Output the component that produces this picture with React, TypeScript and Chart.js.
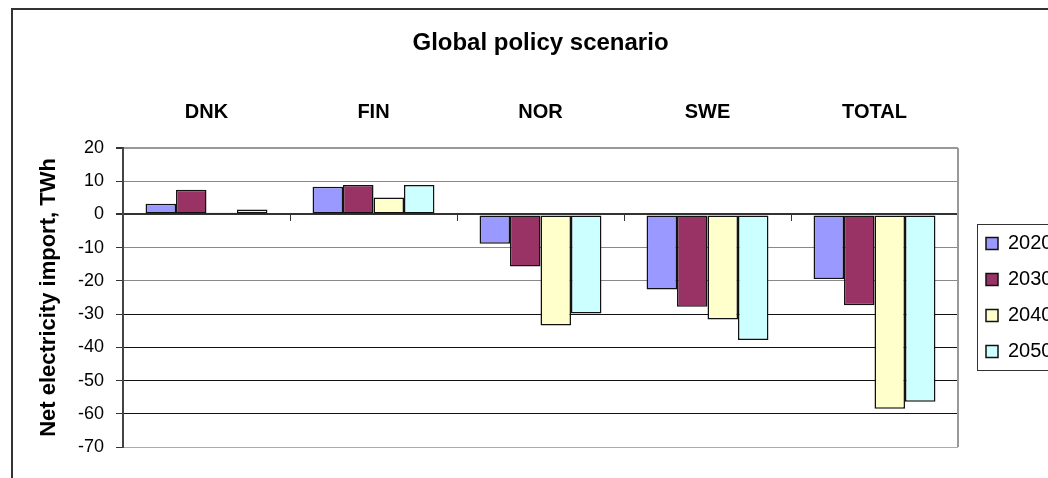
import React, { useEffect, useRef } from "react";
import { Chart, registerables } from "chart.js";

Chart.register(...registerables);

// ---- Data ----
const categories = ["DNK", "FIN", "NOR", "SWE", "TOTAL"];
const seriesNames = ["2020", "2030", "2040", "2050"];
const values2020 = [3.2, 8.3, -8.8, -22.6, -19.4];
const values2030 = [7.4, 8.9, -15.7, -27.8, -27.3];
const values2040 = [0.5, 5.1, -33.4, -31.6, -58.5];
const values2050 = [1.5, 8.9, -29.8, -37.8, -56.4];
const seriesColors = ["#9999FF", "#993366", "#FFFFCC", "#CCFFFF"];
const yMin = -70;
const yMax = 20;
const yStep = 10;
const titleText = "Global policy scenario";
const yTitleText = "Net electricity import, TWh";

const FONT = "'Liberation Sans', Arial, Helvetica, sans-serif";

const extrasPlugin = {
  id: "extrasPlugin",
  beforeDatasetsDraw(chart: any) {
    const { ctx, chartArea } = chart;
    ctx.save();
    ctx.strokeStyle = "#999";
    ctx.lineWidth = 2;
    ctx.beginPath();
    ctx.moveTo(chartArea.right, chartArea.top);
    ctx.lineTo(chartArea.right, chartArea.bottom);
    ctx.stroke();
    ctx.restore();
  },
  afterDraw(chart: any) {
    const { ctx } = chart;
    const legend = chart.legend;
    if (!legend) return;
    const boxes = legend.legendHitBoxes;
    if (!boxes || !boxes.length) return;
    const first = boxes[0];
    const last = boxes[boxes.length - 1];
    const x = Math.round(legend.left + 7) + 0.5;
    const top = Math.round(first.top - 10) + 0.5;
    const bottom = Math.round(last.top + last.height + 8) + 0.5;
    ctx.save();
    ctx.strokeStyle = "#333";
    ctx.lineWidth = 1;
    ctx.strokeRect(x, top, chart.width + 40 - x, bottom - top);
    ctx.restore();
  },
};

export default function App() {
  const ref = useRef<HTMLCanvasElement>(null);

  useEffect(() => {
    const canvas = ref.current;
    if (!canvas) return;
    const seriesValues = [values2020, values2030, values2040, values2050];
    const chart = new Chart(canvas, {
      type: "bar",
      data: {
        labels: categories,
        datasets: seriesNames.map((name, i) => ({
          label: name,
          data: seriesValues[i],
          backgroundColor: seriesColors[i],
          borderColor: "#111",
          borderWidth: 1.5,
          borderSkipped: false,
          categoryPercentage: 0.73,
          barPercentage: 1,
          xAxisID: "x",
          yAxisID: "y",
        })),
      },
      options: {
        animation: false,
        responsive: false,
        devicePixelRatio: 1,
        layout: { padding: { left: 33, top: 0, right: 0, bottom: 31 } },
        plugins: {
          title: {
            display: true,
            text: titleText,
            color: "#000",
            font: { family: FONT, size: 24, weight: "bold" },
            padding: { top: 29, bottom: 30.2 },
          },
          legend: {
            display: true,
            position: "right",
            align: "center",
            fullSize: false,
            maxWidth: 78,
            labels: {
              color: "#000",
              font: { family: FONT, size: 20 },
              boxWidth: 12,
              boxHeight: 12,
              padding: 16,
            },
          },
          tooltip: { enabled: false },
        },
        scales: {
          x: {
            type: "category",
            position: "top",
            offset: true,
            grid: { display: false, drawTicks: false },
            border: { display: false },
            ticks: {
              color: "#000",
              font: { family: FONT, size: 20, weight: "bold" },
              padding: 24,
              maxRotation: 0,
              minRotation: 0,
              autoSkip: false,
            },
            afterFit: (s: any) => {
              s.height = 60;
            },
          },
          x0: {
            type: "category",
            position: { y: 0 },
            offset: true,
            grid: {
              offset: true,
              drawOnChartArea: false,
              drawTicks: true,
              tickLength: 6,
              color: "#333",
              lineWidth: 1,
            },
            border: { display: true, color: "#333", width: 2 },
            ticks: { display: false },
            afterFit: (s: any) => {
              s.height = 0;
            },
          },
          y: {
            type: "linear",
            position: "left",
            min: yMin,
            max: yMax,
            ticks: {
              stepSize: yStep,
              color: "#000",
              font: { family: FONT, size: 18 },
              padding: 12,
            },
            grid: {
              drawTicks: true,
              tickLength: 7,
              tickColor: "#333",
              color: (c: any) => {
                const v = c.tick ? c.tick.value : null;
                if (v === 0) return "#333";
                if (v === yMax) return "#999";
                if (v === yMin) return "#aaa";
                if (v !== null && v <= -30) return "#111";
                return "#888";
              },
              lineWidth: (c: any) => {
                const v = c.tick ? c.tick.value : null;
                return v === 0 || v === yMax ? 2 : 1;
              },
            },
            border: { display: true, color: "#444", width: 2 },
            title: {
              display: true,
              text: yTitleText,
              color: "#000",
              font: { family: FONT, size: 22, weight: "bold" },
              padding: { top: 3, bottom: 3 },
            },
            afterFit: (s: any) => {
              s.width = 90;
            },
          },
          yR: {
            type: "linear",
            position: "right",
            display: true,
            grid: { display: false },
            border: { display: false },
            ticks: { display: false },
            afterFit: (s: any) => {
              s.width = 12;
            },
          },
        },
      } as any,
      plugins: [extrasPlugin],
    });
    return () => chart.destroy();
  }, []);

  return (
    <div
      style={{
        position: "fixed",
        left: 0,
        top: 0,
        width: 1048,
        height: 478,
        overflow: "hidden",
        background: "#fff",
      }}
    >
      <div
        style={{
          position: "absolute",
          left: 11,
          top: 8,
          width: 1100,
          height: 520,
          borderLeft: "2px solid #333",
          borderTop: "2px solid #333",
        }}
      />
      <canvas
        ref={ref}
        width={1048}
        height={478}
        style={{ position: "absolute", left: 0, top: 0, width: 1048, height: 478 }}
      />
    </div>
  );
}
